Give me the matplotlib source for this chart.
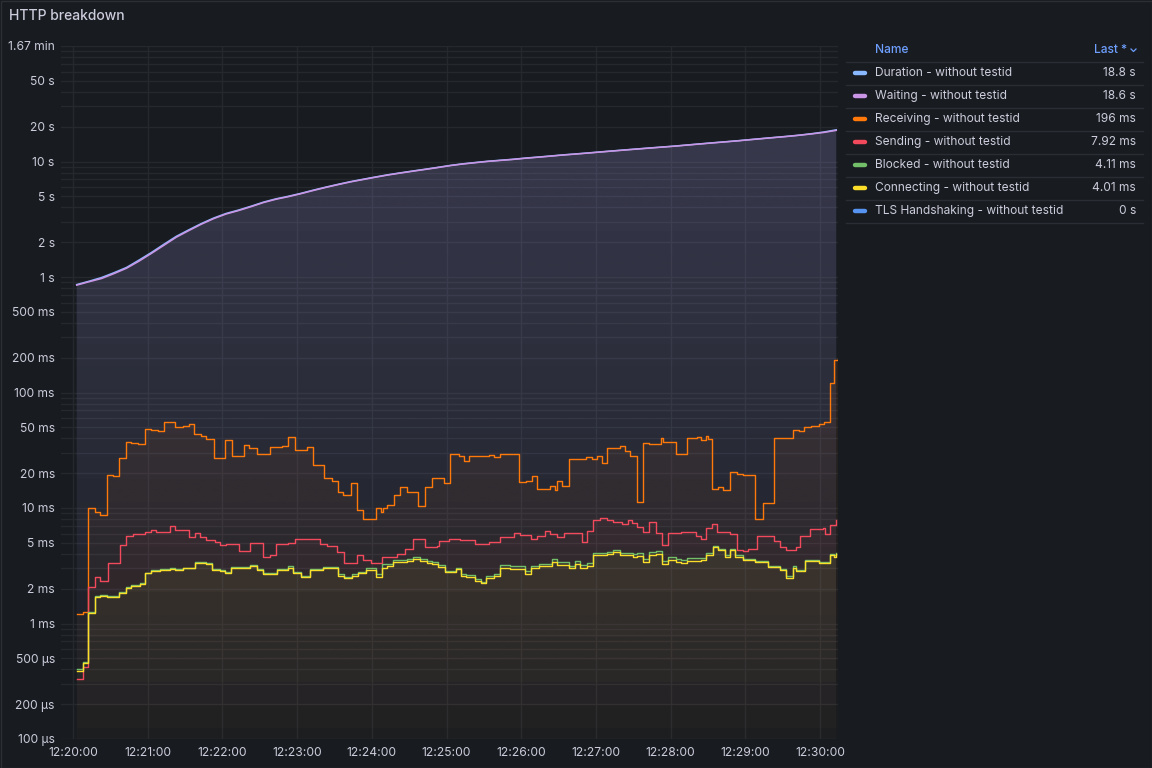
import matplotlib
matplotlib.use('Agg')
import matplotlib.pyplot as plt
import numpy as np
from matplotlib.colors import to_rgb
from matplotlib.lines import Line2D
from matplotlib.patches import Rectangle

plt.rcParams['font.family'] = ['Inter', 'DejaVu Sans']

# ---- data (seconds after 12:20:00) ----
dur_t = list(range(3, 614, 10))
duration_s = [0.86, 0.92, 0.99, 1.09, 1.21, 1.40, 1.63, 1.92, 2.25, 2.56,
              2.90, 3.24, 3.55, 3.80, 4.10, 4.45, 4.75, 5.00, 5.30, 5.65,
              6.00, 6.35, 6.70, 7.02, 7.35, 7.68, 7.98, 8.28, 8.58, 8.90,
              9.25, 9.55, 9.80, 10.05, 10.25, 10.45, 10.70, 10.92, 11.15, 11.40,
              11.62, 11.85, 12.10, 12.35, 12.60, 12.85, 13.10, 13.35, 13.60, 13.90,
              14.20, 14.50, 14.80, 15.10, 15.45, 15.80, 16.15, 16.50, 16.90, 17.40,
              18.00, 18.80]
waiting_s = [0.85, 0.91, 0.97, 1.07, 1.19, 1.37, 1.60, 1.88, 2.21, 2.52,
             2.86, 3.20, 3.51, 3.76, 4.06, 4.41, 4.71, 4.96, 5.26, 5.61,
             5.96, 6.31, 6.66, 6.98, 7.31, 7.64, 7.94, 8.24, 8.54, 8.86,
             9.21, 9.51, 9.76, 10.01, 10.21, 10.41, 10.66, 10.88, 11.11, 11.36,
             11.58, 11.81, 12.06, 12.31, 12.56, 12.81, 13.06, 13.31, 13.56, 13.86,
             14.16, 14.46, 14.76, 15.06, 15.41, 15.76, 16.11, 16.46, 16.86, 17.32,
             17.85, 18.60]

recv_t = [3, 8, 12, 18, 22, 27, 32, 37, 43, 47,
          52, 58, 63, 68, 73, 82, 88, 93, 97, 103,
          107, 113, 122, 128, 137, 141, 148, 158, 163, 168,
          173, 178, 188, 193, 202, 208, 213, 217, 223, 228,
          233, 243, 247, 249, 252, 258, 263, 268, 277, 283,
          288, 298, 303, 310, 314, 318, 334, 338, 343, 358,
          364, 369, 373, 383, 387, 389, 393, 398, 412, 417,
          421, 425, 429, 439, 443, 447, 453, 458, 463, 472,
          474, 484, 493, 501, 504, 508, 510, 513, 518, 522,
          528, 533, 538, 548, 554, 563, 578, 583, 587, 593,
          599, 603, 608, 611, 614]
recv_ms = [1.21, 1.27, 10.0, 9.3, 8.7, 19.3, 19.0, 26.9, 37.5, 36.5,
           36.0, 48.0, 47.0, 46.0, 55.0, 50.0, 51.5, 53.4, 43.5, 41.7,
           39.4, 26.9, 39.0, 28.2, 35.0, 33.0, 29.4, 34.0, 33.5, 34.5,
           41.4, 31.8, 33.5, 23.6, 18.3, 17.1, 13.8, 13.0, 16.6, 9.7,
           8.1, 10.0, 9.3, 10.0, 10.6, 13.0, 15.1, 13.8, 10.4, 15.1,
           18.3, 16.4, 29.2, 28.0, 25.7, 28.0, 29.0, 27.5, 29.2, 16.7,
           17.2, 18.9, 14.6, 15.5, 14.4, 17.2, 15.4, 26.6, 27.5, 26.8,
           28.0, 24.7, 32.9, 34.5, 31.0, 28.0, 11.2, 36.3, 36.0, 40.0,
           37.3, 29.6, 40.1, 40.8, 39.0, 42.0, 39.5, 14.6, 15.2, 14.4,
           20.4, 19.8, 19.5, 8.1, 11.0, 40.1, 47.3, 46.0, 50.0, 51.5,
           53.0, 55.0, 122.0, 191.0, 196.0]

send_t = [3, 8, 12, 18, 22, 28, 38, 43, 48, 58,
          63, 67, 78, 82, 93, 98, 102, 107, 114, 118,
          123, 133, 142, 153, 158, 163, 173, 178, 198, 204,
          212, 218, 228, 233, 239, 248, 260, 267, 273, 283,
          292, 294, 302, 311, 323, 334, 343, 354, 359, 368,
          373, 379, 383, 389, 394, 409, 413, 418, 423, 429,
          434, 441, 446, 449, 453, 458, 463, 468, 473, 478,
          488, 500, 504, 508, 513, 517, 524, 528, 533, 538,
          542, 549, 563, 568, 573, 581, 584, 592, 602, 604,
          608, 613]
send_ms = [0.329, 0.423, 2.08, 2.54, 2.35, 3.36, 4.78, 5.72, 6.0, 6.25,
           6.5, 6.25, 7.0, 6.5, 5.6, 6.1, 5.6, 5.28, 5.1, 4.74,
           4.9, 4.27, 5.0, 3.79, 3.95, 4.87, 5.0, 5.4, 4.87, 4.7,
           4.19, 3.36, 3.95, 3.55, 3.36, 3.8, 4.0, 4.4, 5.35, 4.6,
           4.7, 5.2, 5.4, 5.3, 4.87, 5.1, 5.6, 6.04, 5.8, 5.4,
           5.7, 6.36, 5.95, 5.6, 6.1, 5.1, 6.36, 7.87, 8.2, 7.95,
           7.6, 7.3, 7.87, 7.4, 6.8, 6.25, 7.5, 6.1, 4.78, 6.1,
           6.25, 5.7, 5.4, 6.65, 7.3, 6.15, 6.25, 6.0, 4.35, 4.25,
           4.4, 5.7, 5.2, 4.6, 4.35, 4.6, 5.7, 6.55, 6.65, 6.0,
           7.1, 7.92]

conn_t = [3, 8, 12, 18, 22, 27, 37, 43, 47, 54,
          58, 63, 70, 78, 82, 88, 98, 107, 112, 118,
          122, 127, 137, 142, 148, 153, 164, 173, 177, 183,
          190, 201, 213, 218, 224, 229, 235, 243, 248, 252,
          257, 268, 273, 279, 284, 288, 293, 299, 308, 312,
          316, 323, 328, 332, 338, 343, 351, 363, 368, 374,
          385, 389, 398, 403, 407, 413, 418, 429, 434, 439,
          450, 453, 458, 463, 468, 473, 478, 484, 488, 493,
          504, 508, 514, 518, 524, 528, 532, 538, 548, 558,
          568, 573, 578, 581, 588, 599, 608, 611, 613]
blocked_ms = [0.40, 0.46, 1.26, 1.74, 1.76, 1.72, 1.86, 2.05, 2.14, 2.24,
              2.76, 2.90, 2.95, 3.00, 2.95, 3.05, 3.42, 3.36, 2.95, 2.90,
              2.80, 3.10, 3.06, 3.21, 2.96, 2.74, 2.96, 3.12, 2.78, 2.60,
              2.96, 3.07, 2.66, 2.52, 2.66, 2.80, 3.00, 2.70, 3.25, 3.30,
              3.55, 3.62, 3.78, 3.62, 3.46, 3.40, 3.20, 2.86, 3.04, 2.68,
              2.63, 2.42, 2.30, 2.58, 2.70, 3.22, 3.12, 2.84, 3.15, 3.30,
              3.62, 3.38, 3.15, 3.48, 3.18, 3.32, 4.10, 4.20, 4.35, 4.10,
              4.00, 4.05, 3.65, 4.15, 4.22, 3.50, 3.78, 3.65, 3.58, 3.72,
              3.72, 4.05, 4.70, 4.40, 3.90, 4.45, 3.88, 3.62, 3.50, 3.16,
              2.98, 2.56, 3.12, 2.92, 3.52, 3.42, 4.00, 3.88, 4.11]
conn_ms = [0.39, 0.452, 1.24, 1.71, 1.73, 1.69, 1.83, 2.02, 2.10, 2.20,
           2.72, 2.85, 2.90, 2.95, 2.90, 3.00, 3.36, 3.30, 2.90, 2.85,
           2.75, 3.05, 3.00, 3.15, 2.90, 2.68, 2.90, 3.05, 2.72, 2.54,
           2.90, 3.00, 2.60, 2.46, 2.60, 2.72, 2.90, 2.54, 3.05, 3.15,
           3.43, 3.50, 3.65, 3.50, 3.36, 3.30, 3.10, 2.78, 2.95, 2.60,
           2.55, 2.35, 2.23, 2.50, 2.60, 3.05, 2.95, 2.68, 3.00, 3.15,
           3.43, 3.20, 3.00, 3.30, 3.00, 3.15, 3.92, 4.00, 4.15, 3.92,
           3.80, 3.85, 3.43, 3.92, 4.00, 3.30, 3.55, 3.43, 3.36, 3.50,
           3.55, 3.92, 4.57, 4.30, 3.80, 4.35, 3.80, 3.55, 3.43, 3.10,
           2.92, 2.50, 3.05, 2.85, 3.45, 3.36, 3.92, 3.80, 4.01]

legend_names = ['Duration - without testid', 'Waiting - without testid',
                'Receiving - without testid', 'Sending - without testid',
                'Blocked - without testid', 'Connecting - without testid',
                'TLS Handshaking - without testid']
legend_last = ['18.8 s', '18.6 s', '196 ms', '7.92 ms', '4.11 ms', '4.01 ms', '0 s']
colors = ['#8ab8ff', '#ca95e5', '#ff780a', '#f2495c', '#73bf69', '#fade2a', '#5794f2']

ytick_vals = [1e-4, 2e-4, 5e-4, 1e-3, 2e-3, 5e-3, 1e-2, 2e-2, 5e-2, 0.1, 0.2, 0.5,
              1, 2, 5, 10, 20, 50, 100]
ytick_labels = ['100 µs', '200 µs', '500 µs', '1 ms', '2 ms', '5 ms', '10 ms', '20 ms',
                '50 ms', '100 ms', '200 ms', '500 ms', '1 s', '2 s', '5 s', '10 s',
                '20 s', '50 s', '1.67 min']
xtick_labels = ['12:20:00', '12:21:00', '12:22:00', '12:23:00', '12:24:00', '12:25:00',
                '12:26:00', '12:27:00', '12:28:00', '12:29:00', '12:30:00']

BG = '#181b1f'
TXT = '#ccccdc'
GRID = '#25282d'
W, H = 1152, 768

fig = plt.figure(figsize=(11.52, 7.68), dpi=100, facecolor=BG)
ax = fig.add_axes([61 / W, 1 - 739 / H, (838 - 61) / W, (739 - 46) / H])
ax.set_facecolor(BG)
ax.set_yscale('log')
ax.set_xlim(-9.6, 614.4)
ax.set_ylim(1e-4, 100)
ax.set_autoscale_on(False)

minor = [m * 10.0 ** k for k in range(-4, 2) for m in range(2, 10)]
ax.set_yticks(minor, minor=True)
ax.set_yticks(ytick_vals)
ax.set_yticklabels(ytick_labels)
ax.yaxis.set_minor_formatter(plt.NullFormatter())
ax.set_xticks(np.arange(0, 601, 60))
ax.set_xticklabels(xtick_labels)
ax.grid(True, which='both', axis='y', color=GRID, lw=1)
ax.grid(True, which='major', axis='x', color=GRID, lw=1)
ax.set_axisbelow(True)
ax.tick_params(axis='both', which='both', length=0, colors=TXT, labelsize=8.7)
ax.tick_params(axis='y', pad=4.5)
ax.tick_params(axis='x', pad=5.5)
for s in ax.spines.values():
    s.set_visible(False)

# (times, values in s, colour, step drawing?)
series = [
    (dur_t, np.array(duration_s), colors[0], False),
    (dur_t, np.array(waiting_s), colors[1], False),
    (recv_t, np.array(recv_ms) / 1000, colors[2], True),
    (send_t, np.array(send_ms) / 1000, colors[3], True),
    (conn_t, np.array(blocked_ms) / 1000, colors[4], True),
    (conn_t, np.array(conn_ms) / 1000, colors[5], True),
]

# gradient fills (opacity fades toward the bottom) + lines
for i, (t, v, c, stepped) in enumerate(series):
    poly = ax.fill_between(t, v, 1e-4, step='post' if stepped else None,
                           color='none', lw=0)
    grad = np.zeros((256, 1, 4))
    grad[..., :3] = to_rgb(c)
    grad[:, 0, 3] = np.linspace(0.13, 0.01, 256)
    im = ax.imshow(grad, extent=[0, 1, 0, 1], transform=ax.transAxes,
                   aspect='auto', origin='upper', zorder=1 + i * 0.01)
    im.set_clip_path(poly.get_paths()[0], transform=ax.transData)
    if stepped:
        ax.step(t, v, where='post', color=c, lw=1.0, zorder=3 + i * 0.01)
    else:
        ax.plot(t, v, color=c, lw=1.1, zorder=3 + i * 0.01)

ax.set_xlim(-9.6, 614.4)
ax.set_ylim(1e-4, 100)

# ---- title ----
fig.text(9 / W, 1 - 16.5 / H, 'HTTP breakdown', fontsize=10, color=TXT,
         va='center', ha='left', weight='medium')

# ---- legend table ----
def fy(y):
    return 1 - y / H

fs = 8.6
fig.text(875 / W, fy(50), 'Name', fontsize=fs, color='#6e9fff', va='center',
         ha='left', weight='medium')
fig.text(1127 / W, fy(50), 'Last *', fontsize=fs, color='#6e9fff', va='center',
         ha='right', weight='medium')
fig.add_artist(Line2D([1131 / W, 1133.5 / W, 1136 / W], [fy(49), fy(51.5), fy(49)],
                      color='#6e9fff', lw=0.9, transform=fig.transFigure))
for k in range(8):
    yl = 61.5 + k * 23
    fig.add_artist(Line2D([846 / W, 1143 / W], [fy(yl), fy(yl)], color='#2a2d33',
                          lw=1, transform=fig.transFigure))
for k, (name, last, c) in enumerate(zip(legend_names, legend_last, colors)):
    yc = 73 + k * 23
    fig.add_artist(Line2D([855 / W, 865 / W], [fy(yc - 0.5), fy(yc - 0.5)], color=c,
                          lw=3.2, solid_capstyle='round', transform=fig.transFigure))
    fig.text(875 / W, fy(yc), name, fontsize=fs, color=TXT, va='center', ha='left')
    fig.text(1136 / W, fy(yc), last, fontsize=fs, color=TXT, va='center', ha='right')

# panel border
fig.add_artist(Rectangle((0.5 / W, 0.5 / H), 1 - 1 / W, 1 - 1 / H, fill=False,
                         edgecolor='#2c3035', lw=1, transform=fig.transFigure))

fig.savefig('out.png', dpi=100, facecolor=BG)
